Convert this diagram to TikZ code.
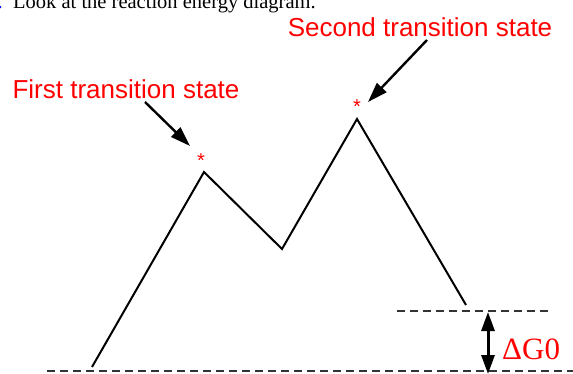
\documentclass[tikz,border=0pt]{standalone}
\usepackage{fontspec}
\setmainfont{Liberation Serif}
\newfontfamily\arialfont{Liberation Sans}
\usetikzlibrary{arrows.meta}
\begin{document}
\begin{tikzpicture}[x=1pt,y=-1pt,
  lbl/.style={text=red,font=\arialfont\fontsize{26}{28}\selectfont,inner sep=0pt},
  star/.style={text=red,font=\arialfont\fontsize{20}{22}\selectfont,inner sep=0pt},
  dashline/.style={gray!40!black,line width=1.6pt,dash pattern=on 8pt off 5pt},
  curve/.style={line width=2pt,line join=miter},
  callout/.style={line width=2.4pt,-{Triangle[length=20pt,width=13pt]}},
  dbl/.style={line width=3pt,{Triangle[length=19pt,width=13pt]}-{Triangle[length=19pt,width=13pt]}}]
\useasboundingbox (0,0) rectangle (573,374);
\clip (0,0) rectangle (573,374);
% partially visible heading
\node[anchor=base west,inner sep=0pt,font=\fontsize{20.5}{22}\selectfont] (head) at (13,9) {Look at the reaction energy diagram.};
\node[anchor=base east,inner sep=0pt,text=blue,font=\fontsize{20.5}{22}\selectfont] (headnum) at (3,9) {.};
% dashed levels
\coordinate (b0) at (47,371);
\coordinate (b1) at (573,371);
\coordinate (u0) at (397,311);
\coordinate (u1) at (552,311);
\draw[dashline] (b0) -- (b1);
\draw[dashline] (u0) -- (u1);
% energy profile
\coordinate (p0) at (92,367);
\coordinate (p1) at (204,172);
\coordinate (p2) at (282,249);
\coordinate (p3) at (357,119);
\coordinate (p4) at (466,305);
\draw[curve] (p0) -- (p1) -- (p2) -- (p3) -- (p4);
% asterisks
\node[star] (s1) at (201,161) {*};
\node[star] (s2) at (357,107) {*};
% labels
\node[lbl] (l1) at (126,89) {First transition state};
\node[lbl] (l2) at (420,27) {Second transition state};
\coordinate (a1s) at (145,102);
\coordinate (a1e) at (190,146);
\coordinate (a2s) at (427,40);
\coordinate (a2e) at (368,102);
\draw[callout] (a1s) -- (a1e);
\draw[callout] (a2s) -- (a2e);
% delta G
\coordinate (d0) at (488,312);
\coordinate (d1) at (488,374);
\draw[dbl] (d0) -- (d1);
\node[text=red,inner sep=0pt,font=\fontsize{31}{33}\selectfont,anchor=west] (dg) at (502,349) {ΔG0};
\end{tikzpicture}
\end{document}
